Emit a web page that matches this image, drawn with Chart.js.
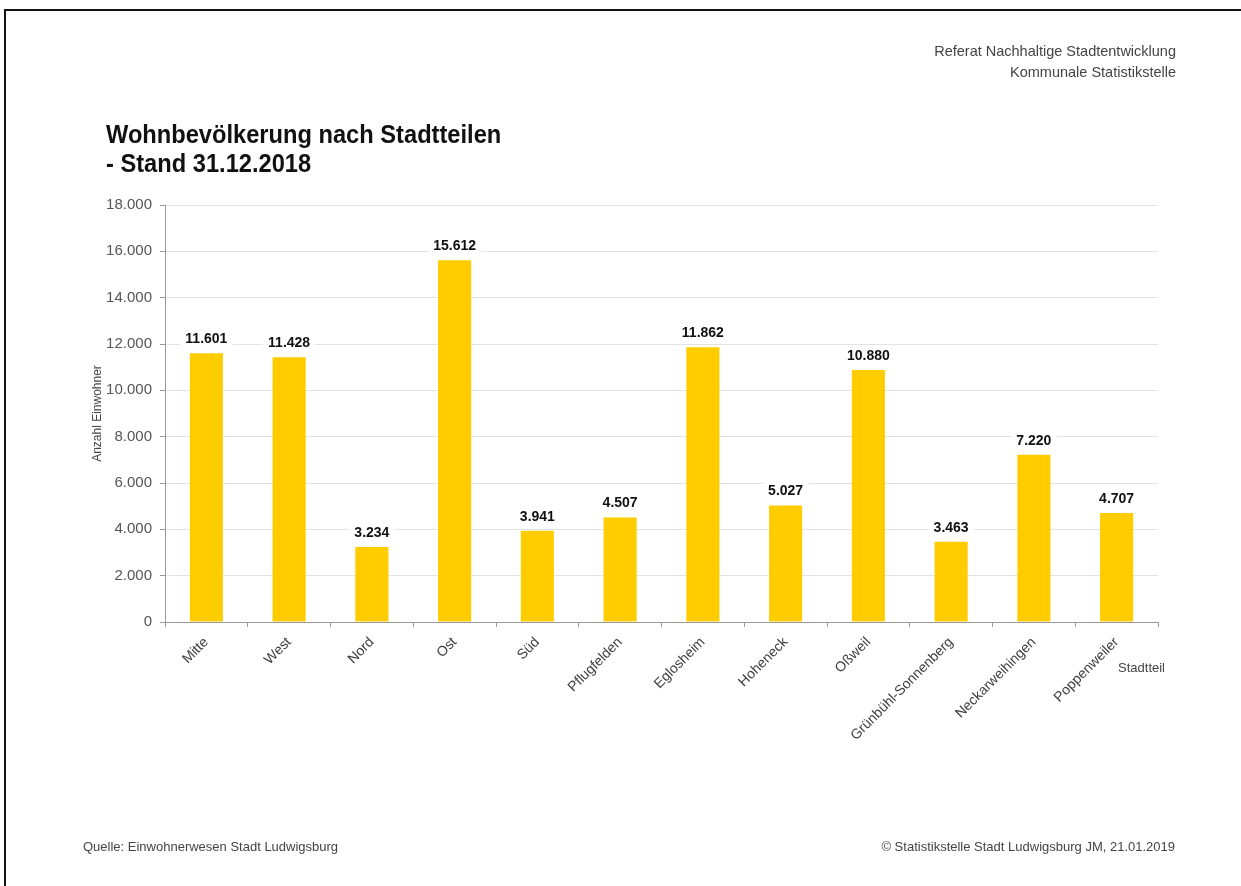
<!DOCTYPE html>
<html lang="de">
<head>
<meta charset="utf-8">
<title>Wohnbevölkerung nach Stadtteilen</title>
<script src="https://cdn.jsdelivr.net/npm/chart.js@4/dist/chart.umd.min.js"></script>
<style>
  html, body { margin: 0; padding: 0; background: #fff; }
  body { width: 1241px; height: 886px; position: relative; overflow: hidden; font-family: "Liberation Sans", Arial, sans-serif; }
  .frame { position: absolute; left: 4px; top: 9px; right: -10px; bottom: -10px; border-top: 2px solid #111; border-left: 2px solid #111; }
  #chart { position: absolute; left: 0; top: 0; }
  .head { position: absolute; right: 65px; top: 41px; text-align: right; font-size: 14.5px; line-height: 21px; color: #444; }
  .title { position: absolute; left: 106px; top: 120px; font-weight: bold; font-size: 26px; line-height: 29px; color: #111;
           transform: scaleX(0.91); transform-origin: left top; white-space: nowrap; }
  .foot { position: absolute; top: 839px; font-size: 13px; color: #444; }
</style>
</head>
<body>
<div class="frame"></div>
<canvas id="chart" width="1241" height="886"></canvas>
<div class="head">Referat Nachhaltige Stadtentwicklung<br>Kommunale Statistikstelle</div>
<div class="title">Wohnbevölkerung nach Stadtteilen<br>- Stand 31.12.2018</div>
<div class="foot" style="left:83px">Quelle: Einwohnerwesen Stadt Ludwigsburg</div>
<div class="foot" style="right:66px">© Statistikstelle Stadt Ludwigsburg JM, 21.01.2019</div>

<script>
// Stadtteile und Einwohnerzahlen (Stand 31.12.2018)
const stadtteile = ['Mitte', 'West', 'Nord', 'Ost', 'Süd', 'Pflugfelden', 'Eglosheim',
    'Hoheneck', 'Oßweil', 'Grünbühl-Sonnenberg', 'Neckarweihingen', 'Poppenweiler'];
const einwohner = [11601, 11428, 3234, 15612, 3941, 4507, 11862, 5027, 10880, 3463, 7220, 4707];
const yMax = 18000;
const yStep = 2000;

// Tausenderpunkt wie im deutschen Format
const fmt = v => String(Math.round(v)).replace(/\B(?=(\d{3})+(?!\d))/g, '.');

// Werte über den Balken, mit weißem Hintergrund (verdeckt die Gitterlinien)
const valueLabels = {
    id: 'valueLabels',
    afterDatasetsDraw(chart) {
        const ctx = chart.ctx;
        const meta = chart.getDatasetMeta(0);
        ctx.save();
        ctx.font = 'bold 14px "Liberation Sans", Arial, sans-serif';
        ctx.textAlign = 'center';
        ctx.textBaseline = 'middle';
        meta.data.forEach((bar, i) => {
            const txt = fmt(einwohner[i]);
            const w = ctx.measureText(txt).width;
            const cy = bar.y - 14;
            ctx.fillStyle = '#fff';
            ctx.fillRect(bar.x - w / 2 - 5, cy - 9, w + 10, 18);
            ctx.fillStyle = '#111';
            ctx.fillText(txt, bar.x, cy);
        });
        ctx.restore();
    }
};

// Achsentitel frei platziert
const axisTitles = {
    id: 'axisTitles',
    afterDraw(chart) {
        const ctx = chart.ctx;
        const area = chart.chartArea;
        ctx.save();
        ctx.fillStyle = '#444';
        ctx.font = '13px "Liberation Sans", Arial, sans-serif';
        ctx.textAlign = 'right';
        ctx.textBaseline = 'middle';
        ctx.fillText('Stadtteil', area.right + 7, area.bottom + 46);

        ctx.font = '12px "Liberation Sans", Arial, sans-serif';
        ctx.textAlign = 'center';
        ctx.translate(98, (area.top + area.bottom) / 2);
        ctx.rotate(-Math.PI / 2);
        ctx.fillText('Anzahl Einwohner', 0, 0);
        ctx.restore();
    }
};

new Chart(document.getElementById('chart'), {
    type: 'bar',
    data: {
        labels: stadtteile,
        datasets: [{
            data: einwohner,
            backgroundColor: '#ffcc00',
            borderWidth: 0,
            barPercentage: 0.4,
            categoryPercentage: 1
        }]
    },
    options: {
        responsive: false,
        animation: false,
        layout: { padding: { left: 80, top: 205, right: 83, bottom: 0 } },
        plugins: {
            legend: { display: false },
            tooltip: { enabled: false }
        },
        scales: {
            x: {
                grid: { drawOnChartArea: false, drawTicks: true, tickLength: 5, tickColor: '#9a9a9a' },
                border: { color: '#9a9a9a', width: 1 },
                ticks: {
                    autoSkip: false,
                    minRotation: 45,
                    maxRotation: 45,
                    padding: 7,
                    color: '#404040',
                    font: { family: '"Liberation Sans", Arial, sans-serif', size: 14 }
                },
                afterFit(scale) { scale.height = 886 - 622; }
            },
            y: {
                min: 0,
                max: yMax,
                grid: { color: '#e3e3e3', tickLength: 5, tickColor: '#9a9a9a' },
                border: { color: '#9a9a9a', width: 1 },
                ticks: {
                    stepSize: yStep,
                    padding: 8,
                    color: '#555',
                    font: { family: '"Liberation Sans", Arial, sans-serif', size: 15 },
                    callback: v => fmt(v)
                },
                afterFit(scale) { scale.width = 165 - 80; }
            }
        }
    },
    plugins: [valueLabels, axisTitles]
});
</script>
</body>
</html>
